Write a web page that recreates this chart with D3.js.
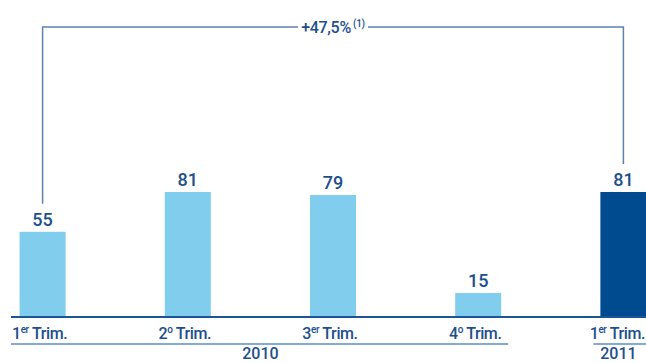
<!DOCTYPE html>
<html>
<head>
<meta charset="utf-8">
<script src="https://cdn.jsdelivr.net/npm/d3@7"></script>
<style>
  body { margin: 0; background: #fff; }
  text { font-family: Roboto, Lato, sans-serif; font-weight: 500; fill: #1d4f8c; }
</style>
</head>
<body>
<div id="chart"></div>
<script>
// quarters shown, with superscripts split out
let quarters = ["1T2010", "2T2010", "3T2010", "4T2010", "1T2011"];
let quarterNum = ["1", "2", "3", "4", "1"];
let quarterSup = ["er", "o", "er", "o", "er"];
let values = [55, 81, 79, 15, 81];
let years = ["2010", "2011"];
let yearSpan = [[0, 3], [4, 4]];
let growthLabel = "+47,5%";
let growthNote = "(1)";

let width = 646, height = 363;
let baseY = 316;

let svg = d3.select("#chart").append("svg")
	.attr("width", width)
	.attr("height", height);

let x = d3.scaleBand().domain(quarters)
	.range([-30, 696])
	.paddingInner(0.683)
	.paddingOuter(0.3415);
let y = d3.scaleLinear().domain([0, 81]).range([baseY, 192]);

// bars
svg.selectAll("rect.bar").data(values).enter().append("rect")
	.attr("class", "bar")
	.attr("x", (d, i) => x(quarters[i]))
	.attr("y", d => y(d))
	.attr("width", x.bandwidth())
	.attr("height", d => baseY - y(d))
	.attr("fill", (d, i) => i == values.length - 1 ? "#004a8f" : "#80cdee");

// value labels
svg.selectAll("text.val").data(values).enter().append("text")
	.attr("class", "val")
	.attr("x", (d, i) => x(quarters[i]) + x.bandwidth() / 2)
	.attr("y", d => y(d) - 6)
	.attr("text-anchor", "middle")
	.attr("font-size", 18)
	.text(d => d);

// axis line
svg.append("line")
	.attr("x1", 11).attr("x2", width)
	.attr("y1", baseY + 1).attr("y2", baseY + 1)
	.attr("stroke", "#1a5596").attr("stroke-width", 2);

// quarter labels (last one pinned to the right edge)
let last = quarters.length - 1;
let ql = svg.selectAll("text.q").data(quarters).enter().append("text")
	.attr("class", "q")
	.attr("x", (d, i) => i == last ? width - 1 : x(d) + x.bandwidth() / 2 - 3)
	.attr("y", 339)
	.attr("text-anchor", (d, i) => i == last ? "end" : "middle")
	.attr("font-size", 16)
	.attr("letter-spacing", -0.4);
ql.append("tspan").text((d, i) => quarterNum[i]);
ql.append("tspan").attr("dy", -6).attr("font-size", 10).text((d, i) => quarterSup[i]);
ql.append("tspan").attr("dy", 6).text(" Trim.");

// year group lines + labels
years.forEach(function(yr, k) {
	let a = quarters[yearSpan[k][0]], b = quarters[yearSpan[k][1]];
	let c0 = x(a) + x.bandwidth() / 2, c1 = x(b) + x.bandwidth() / 2;
	let x1 = k == 0 ? 11 : c0 - 30;
	let x2 = Math.min(width, c1 + 30);
	svg.append("line")
		.attr("x1", x1).attr("x2", x2)
		.attr("y1", 344).attr("y2", 344)
		.attr("stroke", "#5d8fc4").attr("stroke-width", 1.5);
	svg.append("text")
		.attr("x", k == 0 ? (c0 + c1) / 2 : c0 - 5)
		.attr("y", 359)
		.attr("text-anchor", "middle")
		.attr("font-size", 16)
		.text(yr);
});

// growth bracket
let bx0 = x(quarters[0]) + x.bandwidth() / 2;
let bx1 = x(quarters[4]) + x.bandwidth() / 2;
let topY = 27;
let midX = (bx0 + bx1) / 2;
svg.append("path")
	.attr("d", "M" + bx0 + "," + (y(values[0]) - 28) + "V" + topY + "H" + (midX - 35))
	.attr("fill", "none").attr("stroke", "#5f82ab").attr("stroke-width", 1.5);
svg.append("path")
	.attr("d", "M" + (midX + 35) + "," + topY + "H" + bx1 + "V" + (y(values[4]) - 28))
	.attr("fill", "none").attr("stroke", "#5f82ab").attr("stroke-width", 1.5);
let gl = svg.append("text")
	.attr("x", midX)
	.attr("y", topY + 6)
	.attr("text-anchor", "middle")
	.attr("font-size", 16)
	.attr("letter-spacing", -0.3);
gl.append("tspan").text(growthLabel);
gl.append("tspan").attr("dy", -6).attr("font-size", 10).text(" " + growthNote);
</script>
</body>
</html>
